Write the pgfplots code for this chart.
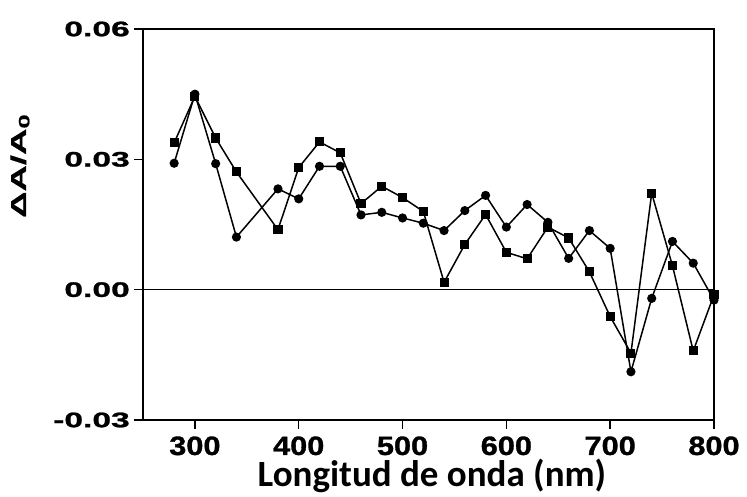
\documentclass[border=0pt]{standalone}
\usepackage{fontspec}
\usepackage{pgfplots}
\pgfplotsset{compat=1.18}
\setmainfont{Liberation Sans}
\newfontfamily\ytickfont[FakeStretch=1.6,FakeBold=1.2]{Liberation Sans}
\newfontfamily\xtickfont[FakeStretch=1.16,FakeBold=1.2]{Liberation Sans}
\newfontfamily\ylabfont[FakeStretch=1.7,FakeBold=0.8]{Liberation Sans}
\newfontfamily\xlabfont{Carlito}

\pgfplotstableread{
x y
280 0.0291
300 0.0450
320 0.0290
340 0.0121
380 0.0232
400 0.0209
420 0.0284
440 0.0284
460 0.0172
480 0.0178
500 0.0165
520 0.0153
540 0.0136
560 0.0182
580 0.0217
600 0.0144
620 0.0196
640 0.0155
660 0.0072
680 0.0136
700 0.0095
720 -0.0189
740 -0.0020
760 0.0111
780 0.0061
800 -0.0024
}\circdata

\pgfplotstableread{
x y
280 0.0338
300 0.0445
320 0.0349
340 0.0271
380 0.0138
400 0.0281
420 0.0340
440 0.0315
460 0.0198
480 0.0238
500 0.0212
520 0.0180
540 0.0017
560 0.0104
580 0.0173
600 0.0086
620 0.0071
640 0.0144
660 0.0119
680 0.0041
700 -0.0062
720 -0.0146
740 0.0222
760 0.0055
780 -0.0141
800 -0.0012
}\squaredata

\begin{document}
\begin{tikzpicture}
\begin{axis}[
  name=ax,
  width=571pt, height=391pt, scale only axis,
  xmin=250, xmax=800, ymin=-0.03, ymax=0.06,
  scaled y ticks=false, scaled x ticks=false,
  xtick={300,400,500,600,700,800},
  xticklabels={300,400,500,600,700,800},
  ytick={-0.03,0,0.03,0.06},
  yticklabels={-0.03,0.00,0.03,0.06},
  tick align=outside,
  major tick length=9pt,
  xtick pos=left, ytick pos=left,
  axis line style={line width=1.4pt},
  tick style={line width=1.4pt, black},
  xticklabel style={font=\xtickfont\fontsize{26.5}{30}\selectfont\bfseries, anchor=base, yshift=-26pt, inner sep=0pt},
  yticklabel style={font=\ytickfont\fontsize{21}{24}\selectfont\bfseries, anchor=east, inner sep=0pt, xshift=-4pt},
  xlabel={Longitud de onda (nm)},
  ylabel={ΔA/A\textsubscript{0}},
  xlabel style={at={(axis description cs:0.506,-0.171)}, anchor=base, font=\xlabfont\fontsize{37}{42}\selectfont\bfseries, inner sep=0pt},
  ylabel style={at={(axis description cs:-0.2155,0.65)}, anchor=center, rotate=0, font=\ylabfont\fontsize{21.5}{24}\selectfont\bfseries, inner sep=0pt},
  clip=false,
]
\addplot[black, line width=1pt, forget plot] coordinates {(250,0) (800,0)};
\addplot[black, line width=1.5pt, mark=square*, mark size=3.8pt, mark options={solid, fill=black}] table[x=x,y=y] {\squaredata};
\addplot[black, line width=1.5pt, mark=*, mark size=3.8pt, mark options={solid, fill=black}] table[x=x,y=y] {\circdata};
\end{axis}
\pgfresetboundingbox
\path[use as bounding box] ([shift={(-143pt,-77pt)}]ax.south west) rectangle ([shift={(33pt,29pt)}]ax.north east);
\end{tikzpicture}
\end{document}
